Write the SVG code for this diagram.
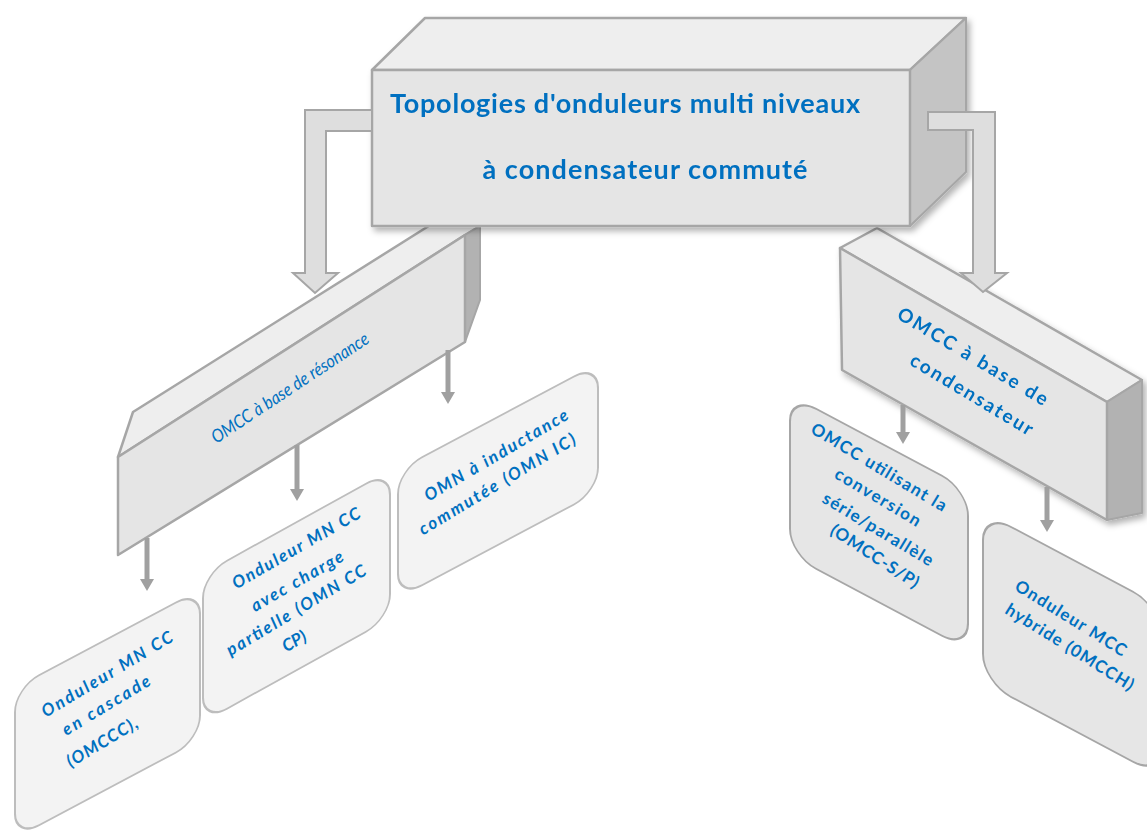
<svg xmlns="http://www.w3.org/2000/svg" width="1147" height="834" viewBox="0 0 1147 834">
<style>
.t{font-family:Lato,"Open Sans","Liberation Sans",sans-serif;fill:#0070C0;text-anchor:middle}
.b{font-weight:bold}
.i{font-style:italic}
.s{font-size:17px}
.face{fill:#E5E5E5;stroke:#A6A6A6;stroke-width:2.5;stroke-linejoin:round}
.top{fill:#EEEEEE;stroke:#A6A6A6;stroke-width:2.5;stroke-linejoin:round}
.side{fill:#B2B2B2;stroke:#A6A6A6;stroke-width:2;stroke-linejoin:round}
.blk{fill:#DEDEDE;stroke:#A6A6A6;stroke-width:2;stroke-linejoin:miter}
.lbox{fill:#F3F3F3;stroke:#BDBDBD;stroke-width:2}
.rbox{fill:#E6E6E6;stroke:#A6A6A6;stroke-width:2}
.con{stroke:#A0A0A0;stroke-width:5;fill:none}
</style>
<defs>
<filter id="sh" x="-10%" y="-10%" width="125%" height="135%">
<feDropShadow dx="3" dy="4" stdDeviation="3" flood-color="#000" flood-opacity="0.3"/>
</filter>
<marker id="ah" markerUnits="userSpaceOnUse" markerWidth="14" markerHeight="14" viewBox="0 0 12 14" refX="3" refY="7" orient="auto">
<path d="M0,0 L12,7 L0,14 z" fill="#A0A0A0"/>
</marker>
</defs>

<g id="node-resonance">
<polygon class="top" points="118,457 133,412 470,200 480,226 465,235"/>
<polygon class="side" points="465,235 480,226 480,300 465,342"/>
<polygon class="face" points="118,457 465,235 465,342 118,555"/>
<text class="t i" x="290" y="394" font-size="18" textLength="185" lengthAdjust="spacingAndGlyphs" transform="rotate(-33.5 290 388)">OMCC à base de résonance</text>
</g>

<g id="node-condensateur" filter="url(#sh)">
<polygon class="top" points="840,248 877,228 1142,380 1107,402"/>
<polygon class="side" points="1107,402 1142,380 1142,513 1107,520"/>
<polygon class="face" points="840,248 1107,402 1107,520 842,370"/>
<text class="t b" x="973" y="363" font-size="19" textLength="172" transform="rotate(31 973 356)">OMCC à base de</text>
<text class="t b" x="972" y="401" font-size="19" textLength="140" transform="rotate(31 972 394)">condensateur</text>
</g>

<g id="node-root" filter="url(#sh)">
<polygon class="top" points="372,70 425,18 966,18 910,70"/>
<polygon class="side" points="910,70 966,18 966,172 910,226" style="fill:#C4C4C4"/>
<rect class="face" x="372" y="70" width="538" height="156"/>
<text class="t b" x="625" y="113" font-size="27" textLength="470">Topologies d'onduleurs multi niveaux</text>
<text class="t b" x="645" y="179" font-size="27" textLength="325">à condensateur commuté</text>
</g>

<g id="connectors">
<path class="blk" d="M372,110 L305,110 L305,273 L293,273 L315,293 L338,273 L326,273 L326,131 L372,131 Z"/>
<path class="blk" d="M928,112 L995,112 L995,273 L1007,273 L983,292 L961,273 L973,273 L973,130 L928,130 Z"/>
<line class="con" x1="448" y1="350" x2="448" y2="395" marker-end="url(#ah)"/>
<line class="con" x1="297" y1="445" x2="297" y2="492" marker-end="url(#ah)"/>
<line class="con" x1="147" y1="538" x2="147" y2="582" marker-end="url(#ah)"/>
<line class="con" x1="903" y1="405" x2="903" y2="435" marker-end="url(#ah)"/>
<line class="con" x1="1047" y1="487" x2="1047" y2="523" marker-end="url(#ah)"/>
</g>

<g id="node-cascade">
<rect class="lbox" x="0" y="0" width="185" height="150" rx="24" transform="translate(15,688) skewY(-28)"/>
<text class="t b i s" x="107" y="680" textLength="150" transform="rotate(-31 107 674)">Onduleur MN CC</text>
<text class="t b i s" x="106" y="711" textLength="100" transform="rotate(-31 106 705)">en cascade</text>
<text class="t b i s" x="102" y="748" textLength="80" transform="rotate(-31 102 742)">(OMCCC),</text>
</g>

<g id="node-charge-partielle">
<rect class="lbox" x="0" y="0" width="187" height="148" rx="24" transform="translate(203,574) skewY(-29)"/>
<text class="t b i s" x="296" y="554" textLength="145" transform="rotate(-30 296 548)">Onduleur MN CC</text>
<text class="t b i s" x="297" y="587" textLength="104" transform="rotate(-30 297 581)">avec charge</text>
<text class="t b i s" x="296" y="616" textLength="160" transform="rotate(-31 296 610)">partielle  (OMN CC</text>
<text class="t b i s" x="294" y="647" transform="rotate(-30 294 641)">CP)</text>
</g>

<g id="node-inductance">
<rect class="lbox" x="0" y="0" width="200" height="128" rx="24" transform="translate(398,470) skewY(-28)"/>
<text class="t b i s" x="496" y="461" textLength="164" transform="rotate(-30.5 496 455)">OMN à inductance</text>
<text class="t b i s" x="497" y="490" textLength="180" transform="rotate(-31 497 484)">commutée (OMN IC)</text>
</g>

<g id="node-serie-parallele">
<rect class="rbox" x="0" y="0" width="178" height="160" rx="26" transform="translate(790,395) skewY(28)"/>
<text class="t b s" x="879" y="473" textLength="155" transform="rotate(31 879 467)">OMCC utilisant la</text>
<text class="t b s" x="878" y="503" textLength="97" transform="rotate(31 878 497)">conversion</text>
<text class="t b s" x="878" y="535" textLength="126" transform="rotate(31 878 529)">série/parallèle</text>
<text class="t b s" x="875" y="562" textLength="102" transform="rotate(33 875 556)">(OMCC-S/P)</text>
</g>

<g id="node-hybride">
<rect class="rbox" x="0" y="0" width="178" height="170" rx="28" transform="translate(983,512) skewY(28)"/>
<text class="t b s" x="1071" y="624" textLength="128" transform="rotate(32 1071 618)">Onduleur MCC</text>
<text class="t b s" x="1070" y="653" textLength="148" transform="rotate(32 1070 647)">hybride (0MCCH)</text>
</g>
</svg>
